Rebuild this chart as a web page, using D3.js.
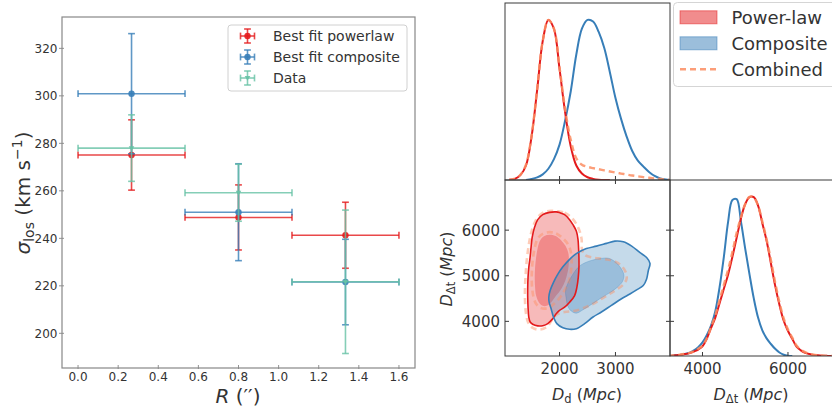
<!DOCTYPE html>
<html>
<head>
<meta charset="utf-8">
<script src="https://cdn.jsdelivr.net/npm/d3@7"></script>
<style>
  body { margin: 0; background: #fff; }
  svg { display: block; font-family: "DejaVu Sans", sans-serif; }
</style>
</head>
<body>
<svg id="fig" width="832" height="412"></svg>
<script>
// ---------- Velocity dispersion in radial bins ----------
const radiusBins = [0.2667, 0.8, 1.3333];
const radiusHalfWidth = [0.2667, 0.2667, 0.2667];
const powerlawSigma = [275.1, 248.8, 241.3];
const powerlawErr = [14.8, 13.7, 13.9];
const compositeSigma = [300.9, 251.0, 221.6];
const compositeErr = [25.3, 20.4, 18.0];
const dataSigma = [278.0, 259.2, 221.7];
const dataErr = [14.0, 12.0, 30.2];
const radiusTicks = [0, 0.2, 0.4, 0.6, 0.8, 1.0, 1.2, 1.4, 1.6];
const sigmaTicks = [200, 220, 240, 260, 280, 300, 320];

// ---------- Marginal posteriors (peak-normalised) ----------
const ddGrid = [1100, 1200, 1300, 1400, 1500, 1600, 1700, 1800, 1900, 2000,
                2100, 2200, 2300, 2400, 2500, 2600, 2700, 2800, 2900, 3000,
                3100, 3200, 3300, 3400, 3500, 3600, 3700, 3800, 3900, 4000];
const ddPowerlaw = [0.001, 0.007, 0.03, 0.09, 0.27, 0.56, 0.865, 0.995, 0.94, 0.69,
                    0.42, 0.21, 0.09, 0.04, 0.017, 0.007, 0.002, 0, 0, null,
                    null, null, null, null, null, null, null, null, null, null];
const ddComposite = [null, null, null, 0, 0.006, 0.016, 0.035, 0.07, 0.13, 0.22,
                     0.37, 0.55, 0.78, 0.94, 0.995, 0.985, 0.92, 0.82, 0.67, 0.51,
                     0.38, 0.27, 0.18, 0.12, 0.083, 0.05, 0.025, 0.01, 0.003, 0];
const ddCombined = [0, 0.008, 0.033, 0.095, 0.275, 0.565, 0.865, 0.995, 0.94, 0.70,
                    0.44, 0.25, 0.135, 0.095, 0.082, 0.074, 0.067, 0.06, 0.053, 0.046,
                    0.04, 0.034, 0.028, 0.023, 0.018, 0.014, 0.01, 0.006, 0.003, 0];

const dtGrid = [3200, 3300, 3400, 3500, 3600, 3700, 3800, 3900, 4000, 4100,
                4200, 4300, 4400, 4500, 4600, 4700, 4800, 4900, 5000, 5100,
                5200, 5300, 5400, 5500, 5600, 5700, 5800, 5900, 6000, 6100,
                6200, 6300, 6400, 6500, 6600, 6700, 6800, 6900, 7000, 7100, 7200];
const dtPowerlaw = [0, 0.002, 0.005, 0.008, 0.012, 0.018, 0.028, 0.04, 0.06, 0.108,
                    0.175, 0.24, 0.33, 0.42, 0.51, 0.62, 0.74, 0.86, 0.95, 0.993,
                    0.993, 0.94, 0.83, 0.72, 0.58, 0.44, 0.32, 0.22, 0.156, 0.108,
                    0.058, 0.035, 0.02, 0.012, 0.007, 0.004, 0.002, 0.001, 0, 0, 0];
const dtComposite = [0, 0.002, 0.005, 0.008, 0.014, 0.02, 0.035, 0.055, 0.085, 0.13,
                     0.19, 0.28, 0.43, 0.62, 0.84, 0.975, 0.98, 0.84, 0.67, 0.51,
                     0.36, 0.24, 0.16, 0.11, 0.075, 0.045, 0.022, 0.008, 0.002, 0,
                     null, null, null, null, null, null, null, null, null, null, null];
const dtCombined = [0, 0.003, 0.006, 0.009, 0.014, 0.02, 0.03, 0.045, 0.065, 0.11,
                    0.18, 0.255, 0.35, 0.445, 0.54, 0.65, 0.77, 0.87, 0.95, 0.995,
                    0.99, 0.94, 0.84, 0.73, 0.60, 0.46, 0.335, 0.235, 0.165, 0.115,
                    0.065, 0.04, 0.024, 0.014, 0.008, 0.005, 0.003, 0.001, 0, 0, 0];

// ---------- Joint posterior credible contours [D_d, D_dt] ----------
const powerlawOuter = [[1940,6400],[2000,6385],[2090,6340],[2180,6230],[2240,6120],[2300,5980],
  [2330,5800],[2340,5615],[2347,5400],[2347,5180],[2335,4965],[2310,4745],[2270,4565],[2180,4420],
  [2090,4310],[2000,4240],[1940,4165],[1880,4060],[1790,3950],[1700,3905],[1610,3900],[1520,3935],
  [1475,3985],[1450,4095],[1437,4310],[1431,4530],[1431,4745],[1437,4965],[1450,5180],[1473,5400],
  [1490,5615],[1510,5835],[1550,6050],[1610,6230],[1700,6340],[1820,6390]];
const powerlawInner = [[1820,5900],[1928,5870],[2030,5775],[2108,5650],[2156,5505],[2168,5325],
  [2150,5110],[2102,4890],[2030,4710],[1940,4565],[1850,4420],[1772,4340],[1700,4340],[1630,4420],
  [1581,4565],[1563,4745],[1557,4965],[1563,5180],[1581,5400],[1611,5615],[1653,5775],[1730,5870]];
const compositeOuter = [[1808,4530],[1832,4675],[1892,4855],[1970,5035],[2060,5195],[2180,5360],
  [2300,5485],[2480,5595],[2660,5650],[2840,5710],[2990,5760],[3140,5745],[3290,5650],[3440,5505],
  [3557,5400],[3617,5270],[3587,5110],[3557,4930],[3497,4785],[3378,4690],[3258,4600],[3108,4495],
  [2928,4350],[2749,4205],[2599,4095],[2449,3950],[2300,3840],[2180,3825],[2060,3860],[1952,3950],
  [1892,4095],[1850,4275],[1814,4420]];
const compositeInner = [[2108,4675],[2150,4835],[2240,5035],[2360,5215],[2540,5325],[2720,5375],
  [2870,5385],[2990,5310],[3080,5195],[3150,5020],[3126,4875],[3030,4745],[2900,4630],[2720,4495],
  [2570,4370],[2420,4255],[2300,4180],[2210,4225],[2150,4325],[2120,4495]];
const combinedOuter = [[1952,6415],[2090,6380],[2192,6300],[2288,6159],[2359,5978],[2395,5797],
  [2401,5580],[2449,5456],[2599,5399],[2779,5370],[2958,5326],[3090,5239],[3186,5072],[3198,4928],
  [3138,4804],[2988,4674],[2779,4515],[2539,4348],[2300,4239],[2090,4203],[1952,4152],[1868,4036],
  [1772,3877],[1641,3819],[1521,3855],[1443,3964],[1401,4167],[1383,4457],[1383,4746],[1395,5036],
  [1413,5326],[1443,5616],[1479,5870],[1533,6101],[1611,6283],[1730,6398],[1850,6425]];
const combinedInner = [[1820,5956],[1940,5928],[2048,5833],[2144,5703],[2198,5543],[2216,5326],
  [2204,5094],[2162,4855],[2078,4652],[1988,4493],[1880,4362],[1790,4290],[1671,4290],[1581,4384],
  [1533,4544],[1509,4746],[1503,4964],[1509,5181],[1527,5399],[1557,5616],[1611,5819],[1700,5920]];

const ddTicks = [2000, 3000];
const dtTicksY = [4000, 5000, 6000];
const dtTicksX = [4000, 6000];

// ---------- palette ----------
const RED = "#e41a1c", BLUE = "#377eb8", TEAL = "#66c2a5", ORANGE = "#fc8d62";
const INK = "#333";

const svg = d3.select("#fig");

// ===================== left: sigma_los vs R =====================
const L = { x0: 62, x1: 415, y0: 17, y1: 368 };
const xR = d3.scaleLinear().domain([-0.08, 1.68]).range([L.x0, L.x1]);
const yS = d3.scaleLinear().domain([185.4, 333.2]).range([L.y1, L.y0]);

const left = svg.append("g");

// ticks and labels
radiusTicks.forEach(t => {
  left.append("line").attr("x1", xR(t)).attr("x2", xR(t))
    .attr("y1", L.y1 - 3).attr("y2", L.y1 + 1).attr("stroke", "#777").attr("stroke-width", 0.8);
  left.append("text").attr("x", xR(t)).attr("y", L.y1 + 13)
    .attr("text-anchor", "middle").attr("font-size", 12).attr("fill", INK)
    .text(d3.format(".1f")(t));
});
sigmaTicks.forEach(t => {
  left.append("line").attr("x1", L.x0 - 3).attr("x2", L.x0 + 2)
    .attr("y1", yS(t)).attr("y2", yS(t)).attr("stroke", "#777").attr("stroke-width", 0.8);
  left.append("text").attr("x", L.x0 - 4.5).attr("y", yS(t) + 4.3)
    .attr("text-anchor", "end").attr("font-size", 12).attr("fill", INK).text(t);
});

const series = [
  { name: "Best fit powerlaw", color: RED, y: powerlawSigma, e: powerlawErr, marker: "circle" },
  { name: "Best fit composite", color: BLUE, y: compositeSigma, e: compositeErr, marker: "circle" },
  { name: "Data", color: TEAL, y: dataSigma, e: dataErr, marker: "tri" }
];

function errCross(g, cx, cy, x0, x1, yTop, yBot, color, marker, size) {
  const s = g.append("g").attr("stroke", color).attr("stroke-opacity", 0.8)
    .attr("stroke-width", 1.6).attr("fill", "none");
  const cap = 3.4;
  s.append("line").attr("x1", x0).attr("x2", x1).attr("y1", cy).attr("y2", cy);
  s.append("line").attr("x1", cx).attr("x2", cx).attr("y1", yTop).attr("y2", yBot);
  s.append("line").attr("x1", x0).attr("x2", x0).attr("y1", cy - cap).attr("y2", cy + cap);
  s.append("line").attr("x1", x1).attr("x2", x1).attr("y1", cy - cap).attr("y2", cy + cap);
  s.append("line").attr("x1", cx - cap).attr("x2", cx + cap).attr("y1", yTop).attr("y2", yTop);
  s.append("line").attr("x1", cx - cap).attr("x2", cx + cap).attr("y1", yBot).attr("y2", yBot);
  if (marker === "circle") {
    g.append("circle").attr("cx", cx).attr("cy", cy).attr("r", size)
      .attr("fill", color).attr("fill-opacity", 0.9);
  } else {
    const r = size;
    g.append("path").attr("d", `M${cx - r},${cy - r * 0.7}L${cx + r},${cy - r * 0.7}L${cx},${cy + r}Z`)
      .attr("fill", color).attr("fill-opacity", 0.9);
  }
}

const plot = left.append("g");
series.forEach(sr => {
  radiusBins.forEach((r, i) => {
    errCross(plot, xR(r), yS(sr.y[i]),
      xR(r - radiusHalfWidth[i]), xR(r + radiusHalfWidth[i]),
      yS(sr.y[i] + sr.e[i]), yS(sr.y[i] - sr.e[i]),
      sr.color, sr.marker, sr.marker === "circle" ? 3.2 : 2.8);
  });
});

// frame
left.append("rect").attr("x", L.x0).attr("y", L.y0)
  .attr("width", L.x1 - L.x0).attr("height", L.y1 - L.y0)
  .attr("fill", "none").attr("stroke", "#888").attr("stroke-width", 1.2);

// legend
const lg = left.append("g");
lg.append("rect").attr("x", 228).attr("y", 25).attr("width", 179).attr("height", 66)
  .attr("rx", 3).attr("fill", "#fff").attr("fill-opacity", 0.85)
  .attr("stroke", "#d0d0d0").attr("stroke-width", 1);
series.forEach((sr, i) => {
  const cy = 36 + i * 21;
  errCross(lg, 247.5, cy, 240.5, 254.5, cy - 7, cy + 7, sr.color, sr.marker,
    sr.marker === "circle" ? 3.2 : 2.8);
  lg.append("text").attr("x", 273).attr("y", cy + 5).attr("font-size", 14)
    .attr("fill", INK).text(sr.name);
});

// axis titles
const yTitle = left.append("text").attr("transform", "translate(30,193) rotate(-90)")
  .attr("text-anchor", "middle").attr("font-size", 20).attr("fill", INK);
yTitle.append("tspan").attr("font-style", "italic").text("σ");
yTitle.append("tspan").attr("font-size", 14).attr("dy", 4).text("los");
yTitle.append("tspan").attr("dy", -4).text(" (km s");
yTitle.append("tspan").attr("font-size", 14).attr("dy", -8).text("−1");
yTitle.append("tspan").attr("dy", 8).text(")");

const xTitle = left.append("text").attr("x", 238).attr("y", 403)
  .attr("text-anchor", "middle").attr("font-size", 20).attr("fill", INK);
xTitle.append("tspan").attr("font-style", "italic").text("R");
xTitle.append("tspan").text(" (′′)");

// ===================== right: corner plot =====================
const C = { x0: 505, x1: 670, x2: 835, y0: 3, y1: 180, y2: 356 };
const xDd = d3.scaleLinear().domain([1025, 3975]).range([C.x0, C.x1]);
const yDt = d3.scaleLinear().domain([3240, 7100]).range([C.y2, C.y1]);
const xDt = d3.scaleLinear().domain([3240, 7100]).range([C.x1, C.x2]);
const yTopPdf = d3.scaleLinear().domain([0, 1.1]).range([C.y1, C.y0]);
const yBrPdf = d3.scaleLinear().domain([0, 1.1]).range([C.y2, C.y1]);

const defs = svg.append("defs");
function clip(id, x, y, w, h) {
  defs.append("clipPath").attr("id", id).append("rect")
    .attr("x", x).attr("y", y).attr("width", w).attr("height", h);
  return `url(#${id})`;
}
const cTL = clip("cTL", C.x0, C.y0, C.x1 - C.x0, C.y1 - C.y0);
const cBL = clip("cBL", C.x0, C.y1, C.x1 - C.x0, C.y2 - C.y1);
const cBR = clip("cBR", C.x1, C.y1, C.x2 - C.x1, C.y2 - C.y1);

const corner = svg.append("g");

// 1-D marginal of D_d
function pdfLine(grid, vals, xs, ys) {
  return d3.line()
    .defined((d, i) => vals[i] !== null)
    .x((d, i) => xs(grid[i]))
    .y((d, i) => ys(vals[i]))
    .curve(d3.curveCatmullRom.alpha(0.5))(grid);
}
const tl = corner.append("g").attr("clip-path", cTL);
tl.append("path").attr("d", pdfLine(ddGrid, ddComposite, xDd, yTopPdf))
  .attr("fill", "none").attr("stroke", BLUE).attr("stroke-width", 2);
tl.append("path").attr("d", pdfLine(ddGrid, ddPowerlaw, xDd, yTopPdf))
  .attr("fill", "none").attr("stroke", RED).attr("stroke-width", 2);
tl.append("path").attr("d", pdfLine(ddGrid, ddCombined, xDd, yTopPdf))
  .attr("fill", "none").attr("stroke", ORANGE).attr("stroke-width", 2.4)
  .attr("stroke-dasharray", "6,4").attr("stroke-opacity", 0.85);

// 1-D marginal of D_dt
const br = corner.append("g").attr("clip-path", cBR);
br.append("path").attr("d", pdfLine(dtGrid, dtComposite, xDt, yBrPdf))
  .attr("fill", "none").attr("stroke", BLUE).attr("stroke-width", 2);
br.append("path").attr("d", pdfLine(dtGrid, dtPowerlaw, xDt, yBrPdf))
  .attr("fill", "none").attr("stroke", RED).attr("stroke-width", 2);
br.append("path").attr("d", pdfLine(dtGrid, dtCombined, xDt, yBrPdf))
  .attr("fill", "none").attr("stroke", ORANGE).attr("stroke-width", 2.4)
  .attr("stroke-dasharray", "6,4").attr("stroke-opacity", 0.85);

// joint contours
const ring = d3.line().x(d => xDd(d[0])).y(d => yDt(d[1]))
  .curve(d3.curveCatmullRomClosed.alpha(0.5));
const bl = corner.append("g").attr("clip-path", cBL);
bl.append("path").attr("d", ring(powerlawOuter)).attr("fill", RED).attr("fill-opacity", 0.3);
bl.append("path").attr("d", ring(powerlawInner)).attr("fill", RED).attr("fill-opacity", 0.3);
bl.append("path").attr("d", ring(compositeOuter)).attr("fill", BLUE).attr("fill-opacity", 0.29);
bl.append("path").attr("d", ring(compositeInner)).attr("fill", BLUE).attr("fill-opacity", 0.3);
bl.append("path").attr("d", ring(combinedInner)).attr("fill", "none")
  .attr("stroke", ORANGE).attr("stroke-opacity", 0.45).attr("stroke-width", 2.6)
  .attr("stroke-dasharray", "6,4");
bl.append("path").attr("d", ring(combinedOuter)).attr("fill", "none")
  .attr("stroke", ORANGE).attr("stroke-opacity", 0.45).attr("stroke-width", 2.6)
  .attr("stroke-dasharray", "6,4");
bl.append("path").attr("d", ring(compositeInner)).attr("fill", "none")
  .attr("stroke", BLUE).attr("stroke-opacity", 0.35).attr("stroke-width", 0.8);
bl.append("path").attr("d", ring(powerlawOuter)).attr("fill", "none")
  .attr("stroke", RED).attr("stroke-width", 1.6);
bl.append("path").attr("d", ring(compositeOuter)).attr("fill", "none")
  .attr("stroke", BLUE).attr("stroke-width", 1.6);

// frames
const frameCol = "#3a3a3a";
[[C.x0, C.y0, C.x1, C.y1], [C.x0, C.y1, C.x1, C.y2], [C.x1, C.y1, C.x2, C.y2]].forEach(f => {
  corner.append("rect").attr("x", f[0]).attr("y", f[1])
    .attr("width", f[2] - f[0]).attr("height", f[3] - f[1])
    .attr("fill", "none").attr("stroke", frameCol).attr("stroke-width", 1);
});

// inward ticks
const tk = corner.append("g").attr("stroke", frameCol).attr("stroke-width", 1);
ddTicks.forEach(t => {
  const x = xDd(t);
  tk.append("line").attr("x1", x).attr("x2", x).attr("y1", C.y1).attr("y2", C.y1 - 4);
  tk.append("line").attr("x1", x).attr("x2", x).attr("y1", C.y1).attr("y2", C.y1 + 4);
  tk.append("line").attr("x1", x).attr("x2", x).attr("y1", C.y2).attr("y2", C.y2 - 4);
});
dtTicksY.forEach(t => {
  const y = yDt(t);
  tk.append("line").attr("x1", C.x0).attr("x2", C.x0 + 4).attr("y1", y).attr("y2", y);
  tk.append("line").attr("x1", C.x1 - 4).attr("x2", C.x1 + 4).attr("y1", y).attr("y2", y);
});
dtTicksX.forEach(t => {
  const x = xDt(t);
  tk.append("line").attr("x1", x).attr("x2", x).attr("y1", C.y2).attr("y2", C.y2 - 4);
});

// tick labels
ddTicks.forEach(t => corner.append("text").attr("x", xDd(t)).attr("y", 373.8)
  .attr("text-anchor", "middle").attr("font-size", 15).attr("fill", INK).text(t));
dtTicksX.forEach(t => corner.append("text").attr("x", xDt(t)).attr("y", 373.8)
  .attr("text-anchor", "middle").attr("font-size", 15).attr("fill", INK).text(t));
dtTicksY.forEach(t => corner.append("text").attr("x", 500).attr("y", yDt(t) + 5.4)
  .attr("text-anchor", "end").attr("font-size", 15).attr("fill", INK).text(t));

// axis titles
function distLabel(sel, sub) {
  sel.append("tspan").attr("font-style", "italic").text("D");
  sel.append("tspan").attr("font-size", 11.5).attr("dy", 3).text(sub);
  sel.append("tspan").attr("dy", -3).text(" (");
  sel.append("tspan").attr("font-style", "italic").text("Mpc");
  sel.append("tspan").text(")");
}
distLabel(corner.append("text").attr("x", 587).attr("y", 400).attr("text-anchor", "middle")
  .attr("font-size", 16).attr("fill", INK), "d");
distLabel(corner.append("text").attr("x", 751).attr("y", 400).attr("text-anchor", "middle")
  .attr("font-size", 16).attr("fill", INK), "Δt");
distLabel(corner.append("text").attr("transform", "translate(452,269) rotate(-90)")
  .attr("text-anchor", "middle").attr("font-size", 16).attr("fill", INK), "Δt");

// legend
const rl = corner.append("g");
rl.append("rect").attr("x", 673.5).attr("y", 2.5).attr("width", 175).attr("height", 84)
  .attr("rx", 4).attr("fill", "#fff").attr("stroke", "#d5d5d5").attr("stroke-width", 1);
const legendItems = [
  { label: "Power-law", kind: "patch", color: RED },
  { label: "Composite", kind: "patch", color: BLUE },
  { label: "Combined", kind: "dash", color: ORANGE }
];
legendItems.forEach((it, i) => {
  const cy = 17.3 + i * 26;
  if (it.kind === "patch") {
    rl.append("rect").attr("x", 680).attr("y", cy - 6.5).attr("width", 37).attr("height", 13)
      .attr("fill", it.color).attr("fill-opacity", 0.5)
      .attr("stroke", it.color).attr("stroke-opacity", 0.5);
  } else {
    rl.append("line").attr("x1", 680).attr("x2", 717).attr("y1", cy).attr("y2", cy)
      .attr("stroke", it.color).attr("stroke-width", 2.4).attr("stroke-dasharray", "6,4")
      .attr("stroke-opacity", 0.85);
  }
  rl.append("text").attr("x", 731.5).attr("y", cy + 6.5).attr("font-size", 18)
    .attr("fill", INK).text(it.label);
});
</script>
</body>
</html>
